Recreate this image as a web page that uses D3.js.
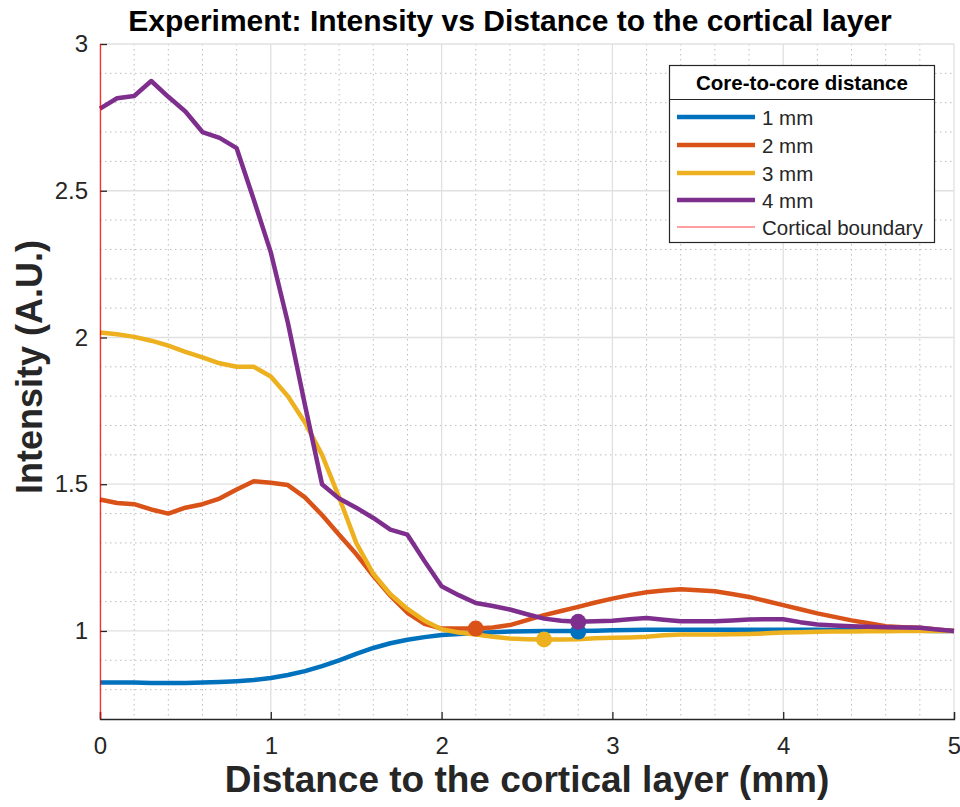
<!DOCTYPE html>
<html>
<head>
<meta charset="utf-8">
<script src="https://cdn.jsdelivr.net/npm/d3@7.9.0/dist/d3.min.js"></script>
<style>
  body { margin: 0; background: #fff; }
  svg { display: block; font-family: 'Liberation Sans', Arial, Helvetica, sans-serif; }
</style>
</head>
<body>
<svg id="chart" width="960" height="807"></svg>
<script>
// distance to the cortical layer (mm), sampled every 0.1 mm
const distance = [0, 0.1, 0.2, 0.3, 0.4, 0.5, 0.6, 0.7, 0.8, 0.9,
  1, 1.1, 1.2, 1.3, 1.4, 1.5, 1.6, 1.7, 1.8, 1.9,
  2, 2.1, 2.2, 2.3, 2.4, 2.5, 2.6, 2.7, 2.8, 2.9,
  3, 3.1, 3.2, 3.3, 3.4, 3.5, 3.6, 3.7, 3.8, 3.9,
  4, 4.1, 4.2, 4.3, 4.4, 4.5, 4.6, 4.7, 4.8, 4.9, 5];

const intensity1mm = [0.824, 0.824, 0.824, 0.823, 0.823, 0.823, 0.824, 0.826, 0.829, 0.833,
  0.840, 0.850, 0.863, 0.880, 0.900, 0.922, 0.942, 0.958, 0.970, 0.979,
  0.986, 0.990, 0.993, 0.996, 0.998, 0.999, 1.000, 1.000, 1.000, 1.001,
  1.002, 1.003, 1.004, 1.004, 1.004, 1.004, 1.004, 1.004, 1.004, 1.004,
  1.004, 1.004, 1.004, 1.003, 1.003, 1.002, 1.002, 1.001, 1.001, 1.000, 1.000];

const intensity2mm = [1.448, 1.436, 1.432, 1.414, 1.400, 1.420, 1.432, 1.451, 1.482, 1.510,
  1.505, 1.497, 1.455, 1.395, 1.328, 1.262, 1.188, 1.120, 1.062, 1.024,
  1.008, 1.008, 1.008, 1.012, 1.020, 1.037, 1.054, 1.068, 1.082, 1.097,
  1.110, 1.122, 1.132, 1.138, 1.142, 1.139, 1.135, 1.126, 1.116, 1.102,
  1.088, 1.074, 1.060, 1.048, 1.036, 1.026, 1.016, 1.013, 1.011, 1.005, 1.000];

const intensity3mm = [2.017, 2.011, 2.002, 1.989, 1.972, 1.951, 1.932, 1.912, 1.900, 1.900,
  1.867, 1.800, 1.710, 1.600, 1.455, 1.300, 1.195, 1.125, 1.075, 1.035,
  1.006, 0.995, 0.988, 0.980, 0.974, 0.972, 0.971, 0.971, 0.972, 0.975,
  0.977, 0.978, 0.980, 0.985, 0.988, 0.988, 0.988, 0.989, 0.990, 0.992,
  0.995, 0.996, 0.997, 0.998, 0.998, 0.999, 0.999, 1.000, 1.000, 1.000, 1.000];

const intensity4mm = [2.780, 2.815, 2.823, 2.874, 2.820, 2.770, 2.700, 2.680, 2.645, 2.470,
  2.290, 2.050, 1.770, 1.500, 1.451, 1.420, 1.385, 1.345, 1.328, 1.238,
  1.152, 1.122, 1.095, 1.085, 1.073, 1.057, 1.042, 1.035, 1.031, 1.033,
  1.035, 1.040, 1.044, 1.038, 1.033, 1.033, 1.033, 1.036, 1.039, 1.040,
  1.040, 1.030, 1.022, 1.019, 1.016, 1.014, 1.013, 1.012, 1.011, 1.005, 1.000];

const seriesNames = ['1 mm', '2 mm', '3 mm', '4 mm'];
const seriesColors = ['#0072BD', '#D95319', '#EDB120', '#7E2F8E'];
const seriesValues = [intensity1mm, intensity2mm, intensity3mm, intensity4mm];

// marked points on each curve (distance, intensity)
const markerX = [2.8, 2.2, 2.6, 2.8];
const markerY = [0.998, 1.008, 0.971, 1.031];

const xTicks = [0, 1, 2, 3, 4, 5];
const yTicks = [1, 1.5, 2, 2.5, 3];
const boundaryX = 0;

const svg = d3.select('#chart');
const plotLeft = 100, plotRight = 954, plotTop = 44, plotBottom = 719;
const axisColor = '#262626';

const x = d3.scaleLinear().domain([0, 5]).range([plotLeft, plotRight]);
const y = d3.scaleLinear().domain([0.7, 3]).range([plotBottom, plotTop]);

// minor grid (dotted)
const minorX = d3.range(0.2, 5, 0.2).filter(v => Math.abs(v - Math.round(v)) > 1e-6);
const minorY = d3.range(0.8, 3, 0.1).filter(v => Math.abs(v * 2 - Math.round(v * 2)) > 1e-6);

const grid = svg.append('g');
grid.selectAll('.mx').data(minorX).join('line')
  .attr('x1', d => x(d)).attr('x2', d => x(d))
  .attr('y1', plotTop).attr('y2', plotBottom)
  .attr('stroke', '#bdbdbd').attr('stroke-width', 1)
  .attr('stroke-dasharray', '1.5,3.5');
grid.selectAll('.my').data(minorY).join('line')
  .attr('x1', plotLeft).attr('x2', plotRight)
  .attr('y1', d => y(d)).attr('y2', d => y(d))
  .attr('stroke', '#bdbdbd').attr('stroke-width', 1)
  .attr('stroke-dasharray', '1.5,3.5');

// major grid
grid.selectAll('.gx').data(xTicks).join('line')
  .attr('x1', d => x(d)).attr('x2', d => x(d))
  .attr('y1', plotTop).attr('y2', plotBottom)
  .attr('stroke', '#e0e0e0').attr('stroke-width', 1.3);
grid.selectAll('.gy').data(yTicks).join('line')
  .attr('x1', plotLeft).attr('x2', plotRight)
  .attr('y1', d => y(d)).attr('y2', d => y(d))
  .attr('stroke', '#e0e0e0').attr('stroke-width', 1.3);

// axes
const xAxis = svg.append('g')
  .attr('transform', `translate(0,${plotBottom})`)
  .call(d3.axisBottom(x).tickValues(xTicks).tickSize(-7).tickPadding(18).tickFormat(d3.format('')));
const yAxis = svg.append('g')
  .attr('transform', `translate(${plotLeft},0)`)
  .call(d3.axisLeft(y).tickValues(yTicks).tickSize(-7).tickPadding(12).tickFormat(d3.format('')));

[xAxis, yAxis].forEach(a => {
  a.select('.domain').attr('stroke', axisColor).attr('stroke-width', 1.3);
  a.selectAll('.tick line').attr('stroke', axisColor).attr('stroke-width', 1.3);
  a.selectAll('.tick text').attr('fill', axisColor)
    .style('font-size', '24px')
    .style('font-family', "'Liberation Sans', Arial, sans-serif");
});
yAxis.select('.domain').attr('stroke', 'none');
xAxis.selectAll('.tick text').attr('dy', '0.71em');

// curves
const line = d3.line()
  .x((d, i) => x(distance[i]))
  .y(d => y(d));

const curves = svg.append('g');
seriesValues.forEach((vals, k) => {
  curves.append('path')
    .datum(vals)
    .attr('d', line)
    .attr('fill', 'none')
    .attr('stroke', seriesColors[k])
    .attr('stroke-width', 4.5)
    .attr('stroke-linejoin', 'round');
});

seriesValues.forEach((vals, k) => {
  curves.append('circle')
    .attr('cx', x(markerX[k]))
    .attr('cy', y(markerY[k]))
    .attr('r', 8)
    .attr('fill', seriesColors[k]);
});

// cortical boundary
svg.append('line')
  .attr('x1', x(boundaryX) + 0.5).attr('x2', x(boundaryX) + 0.5)
  .attr('y1', plotTop).attr('y2', plotBottom)
  .attr('stroke', '#ff0000').attr('stroke-opacity', 0.8).attr('stroke-width', 1.3);

// title and labels
svg.append('text')
  .attr('x', 510).attr('y', 31)
  .attr('text-anchor', 'middle')
  .style('font-size', '30px').style('font-weight', 'bold')
  .attr('fill', '#000')
  .text('Experiment: Intensity vs Distance to the cortical layer');

svg.append('text')
  .attr('x', (plotLeft + plotRight) / 2).attr('y', 792)
  .attr('text-anchor', 'middle')
  .style('font-size', '37px').style('font-weight', 'bold')
  .attr('fill', axisColor)
  .text('Distance to the cortical layer (mm)');

svg.append('text')
  .attr('transform', 'translate(42,367) rotate(-90)')
  .attr('text-anchor', 'middle')
  .style('font-size', '36px').style('font-weight', 'bold')
  .attr('fill', axisColor)
  .text('Intensity (A.U.)');

// legend
const lg = svg.append('g');
lg.append('rect')
  .attr('x', 669.5).attr('y', 65.5).attr('width', 265).attr('height', 177)
  .attr('fill', '#fff').attr('stroke', axisColor).attr('stroke-width', 1.2);
lg.append('line')
  .attr('x1', 669.5).attr('x2', 934.5).attr('y1', 99.5).attr('y2', 99.5)
  .attr('stroke', axisColor).attr('stroke-width', 1.2);
lg.append('text')
  .attr('x', 802).attr('y', 90)
  .attr('text-anchor', 'middle')
  .style('font-size', '20.5px').style('font-weight', 'bold')
  .attr('fill', '#000')
  .text('Core-to-core distance');

const legendNames = seriesNames.concat(['Cortical boundary']);
const legendColors = seriesColors.concat(['#ff0000']);
const legendY = [117, 145, 173, 200, 227];
legendNames.forEach((name, i) => {
  const boundary = i === 4;
  lg.append('line')
    .attr('x1', 677).attr('x2', 755)
    .attr('y1', legendY[i]).attr('y2', legendY[i])
    .attr('stroke', legendColors[i])
    .attr('stroke-opacity', boundary ? 0.5 : 1)
    .attr('stroke-width', boundary ? 1.3 : 4.5);
  lg.append('text')
    .attr('x', 762).attr('y', legendY[i] + 7.5)
    .style('font-size', '20.5px')
    .attr('fill', axisColor)
    .text(name);
});
</script>
</body>
</html>
